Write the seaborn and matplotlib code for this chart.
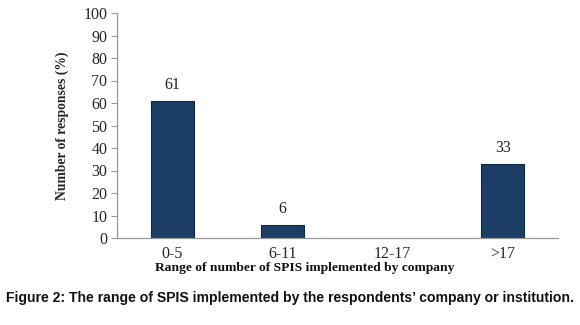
import matplotlib
matplotlib.use("Agg")
import matplotlib.pyplot as plt
import seaborn as sns
import pandas as pd

categories = ["0-5", "6-11", "12-17", ">17"]
values = [61, 6, 0, 33]
labels = ["61", "6", "", "33"]

sns.set_style("white")
plt.rcParams['font.family'] = ['Liberation Serif', 'DejaVu Serif']

df = pd.DataFrame({"cat": categories, "val": values})

fig = plt.figure(figsize=(5.8, 3.25), dpi=100)
ax = fig.add_axes([117/580, 1 - 238/325, (558-117)/580, (238-13)/325])
sns.barplot(data=df, x="cat", y="val", ax=ax, color="#1c3d66", width=0.39,
            edgecolor="#0e2745", linewidth=0.8, saturation=1)

for p, lab in zip(ax.patches, labels):
    if p.get_height() == 0:
        p.set_linewidth(0)
    if lab:
        ax.text(p.get_x() + p.get_width()/2, p.get_height() + 3.5, lab,
                ha="center", va="bottom", fontsize=11.5, color="#222222")

ax.set_ylim(0, 100)
ax.set_yticks(range(0, 101, 10))
ax.set_xlim(-0.5, 3.5)
ax.set_ylabel("Number of responses (%)", fontsize=9.8, fontweight="bold", labelpad=10)
ax.set_xlabel("")
ax.tick_params(axis="y", labelsize=11.5, length=4, width=0.8, color="#999999", pad=3, left=True, direction="out")
ax.tick_params(axis="x", labelsize=11.5, length=0, pad=6)
for s in ["top", "right"]:
    ax.spines[s].set_visible(False)
for s in ["left", "bottom"]:
    ax.spines[s].set_color("#999999")
    ax.spines[s].set_linewidth(0.9)

fig.text(305/580, 1 - 268/325, "Range of number of SPIS implemented by company",
         ha="center", va="center", fontsize=9.7, fontweight="bold", color="#111111")

fig.text(0.5, 1 - 298/325, "Figure 2: The range of SPIS implemented by the respondents\u2019 company or institution.",
         ha="center", va="center", fontsize=10.1, fontweight="bold", family=["Liberation Sans", "DejaVu Sans"],
         color="#111111")

fig.savefig("out.png", dpi=100)
